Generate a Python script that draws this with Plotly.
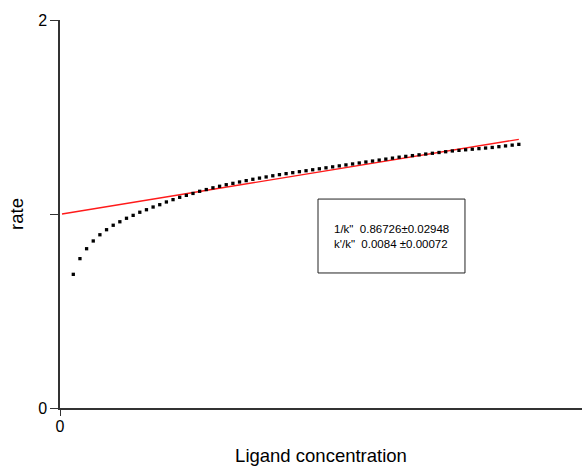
import plotly.graph_objects as go

# Ligand concentration (arbitrary units, one per dot)
conc = [2, 3, 4, 5, 6, 7, 8, 9, 10, 11, 12, 13, 14, 15, 16, 17, 18, 19, 20, 21,
        22, 23, 24, 25, 26, 27, 28, 29, 30, 31, 32, 33, 34, 35, 36, 37, 38, 39, 40, 41,
        42, 43, 44, 45, 46, 47, 48, 49, 50, 51, 52, 53, 54, 55, 56, 57, 58, 59, 60, 61,
        62, 63, 64, 65, 66, 67, 68, 69]

rate = [0.689, 0.770, 0.821, 0.861, 0.893, 0.919, 0.942, 0.960, 0.978, 0.993,
        1.009, 1.022, 1.036, 1.048, 1.062, 1.074, 1.086, 1.096, 1.106, 1.117,
        1.126, 1.135, 1.143, 1.151, 1.158, 1.165, 1.172, 1.179, 1.185, 1.191,
        1.197, 1.203, 1.208, 1.213, 1.218, 1.223, 1.228, 1.233, 1.238, 1.243,
        1.248, 1.253, 1.258, 1.263, 1.268, 1.273, 1.278, 1.283, 1.288, 1.293,
        1.297, 1.301, 1.305, 1.309, 1.313, 1.317, 1.321, 1.325, 1.328, 1.331,
        1.334, 1.337, 1.340, 1.343, 1.347, 1.351, 1.355, 1.359]

fit_x = [0.3, 69]
fit_y = [1.0, 1.385]

box_lines = ['1/k"  0.86726±0.02948', 'k\'/k"  0.0084 ±0.00072']

FONT = "Liberation Sans, Arial, sans-serif"

fig = go.Figure()
fig.add_trace(go.Scatter(x=fit_x, y=fit_y, mode="lines",
                         line=dict(color="#ff1a1a", width=1.3), showlegend=False))
fig.add_trace(go.Scatter(x=conc, y=rate, mode="markers",
                         marker=dict(symbol="square", size=3.3, color="black",
                                     line=dict(width=0)),
                         showlegend=False))

# parameter box
fig.add_shape(type="rect", xref="x", yref="y", x0=38.8, x1=60.9, y0=0.696, y1=1.077,
              line=dict(color="#222", width=1), fillcolor="white", layer="above")
fig.add_annotation(x=49.8, y=0.885, xref="x", yref="y", showarrow=False,
                   text="<br>".join(box_lines), align="left",
                   font=dict(family=FONT, size=11.5, color="black"))

fig.update_layout(
    width=582, height=466,
    margin=dict(l=60, r=0, t=20, b=58, autoexpand=False),
    paper_bgcolor="white", plot_bgcolor="white",
    font=dict(family=FONT, color="black"),
    xaxis=dict(range=[0, 78.5], showgrid=False, zeroline=False, automargin=False,
               showline=True, linecolor="#333", linewidth=1.5,
               ticks="outside", ticklen=6, tickcolor="#333",
               tickvals=[0], ticktext=["0"], tickfont=dict(size=16),
               ticklabelstandoff=-3,
               title=dict(text="Ligand concentration", font=dict(size=18.5), standoff=18)),
    yaxis=dict(range=[0, 2], showgrid=False, zeroline=False, automargin=False,
               showline=True, linecolor="#333", linewidth=1.5,
               ticks="outside", ticklen=8, tickcolor="#333",
               tickvals=[0, 1, 2], ticktext=["0", "", "2"], tickfont=dict(size=16),
               title=dict(text="rate", font=dict(size=18.5), standoff=10)),
)

fig.write_html("out.html")
